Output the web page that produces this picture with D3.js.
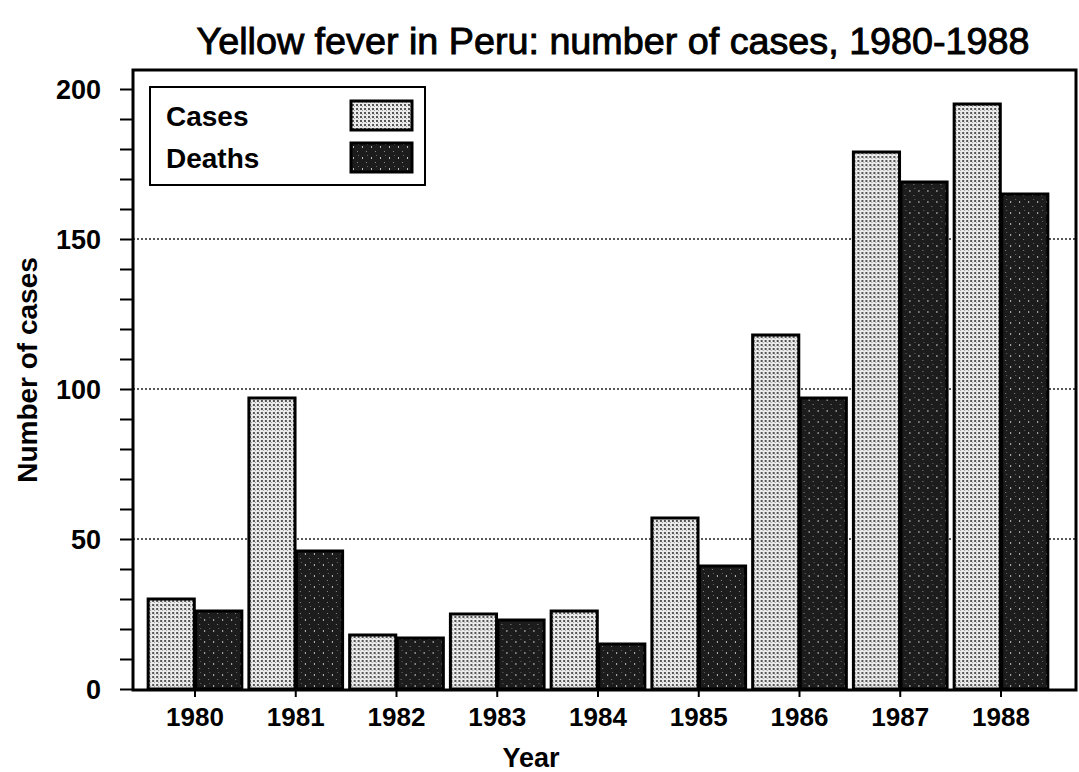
<!DOCTYPE html>
<html>
<head>
<meta charset="utf-8">
<script src="https://cdn.jsdelivr.net/npm/d3@7"></script>
<style>
  html, body { margin: 0; padding: 0; background: #fff; }
  svg { display: block; }
  text { font-family: "Liberation Sans", Arial, Helvetica, sans-serif; fill: #000; }
</style>
</head>
<body>
<svg id="chart" width="1079" height="772"></svg>
<script>
const years = ["1980", "1981", "1982", "1983", "1984", "1985", "1986", "1987", "1988"];
const seriesNames = ["Cases", "Deaths"];
const cases  = [30, 97, 18, 25, 26, 57, 118, 179, 195];
const deaths = [26, 46, 17, 23, 15, 41, 97, 169, 165];
const yTicks = [0, 50, 100, 150, 200];
const gridValues = [50, 100, 150];

const svg = d3.select("#chart");
const frame = { left: 133, top: 70, right: 1076, bottom: 690 };

const defs = svg.append("defs");
// light stipple for Cases
const p1 = defs.append("pattern").attr("id", "stipLight")
  .attr("width", 4).attr("height", 4).attr("patternUnits", "userSpaceOnUse");
p1.append("rect").attr("width", 4).attr("height", 4).attr("fill", "#ececec");
p1.append("rect").attr("x", 0).attr("y", 0).attr("width", 2).attr("height", 2).attr("fill", "#555");
p1.append("rect").attr("x", 2).attr("y", 2).attr("width", 1).attr("height", 1).attr("fill", "#999");
// dark stipple for Deaths
const p2 = defs.append("pattern").attr("id", "stipDark")
  .attr("width", 9).attr("height", 11).attr("patternUnits", "userSpaceOnUse");
p2.append("rect").attr("width", 9).attr("height", 11).attr("fill", "#1c1c1c");
p2.append("rect").attr("x", 2).attr("y", 3).attr("width", 1).attr("height", 2).attr("fill", "#bbb");
p2.append("rect").attr("x", 6).attr("y", 8).attr("width", 1).attr("height", 1).attr("fill", "#888");
p2.append("rect").attr("x", 7).attr("y", 1).attr("width", 1).attr("height", 1).attr("fill", "#666");

const x0 = d3.scaleBand().domain(years).range([141.1, 1054.9]).paddingInner(0.07).paddingOuter(0.07);
const x1 = d3.scaleBand().domain(seriesNames).range([0, x0.bandwidth()]).paddingInner(0.03);
const y = d3.scaleLinear().domain([0, 200]).range([689, 89]);

// grid lines
svg.append("g").selectAll("line").data(gridValues).join("line")
  .attr("x1", frame.left).attr("x2", frame.right)
  .attr("y1", d => y(d)).attr("y2", d => y(d))
  .attr("stroke", "#222").attr("stroke-width", 1.3).attr("stroke-dasharray", "2,2");

// bars
const rows = years.map((yr, i) => ({ year: yr, vals: [
  { key: "Cases", v: cases[i] }, { key: "Deaths", v: deaths[i] } ] }));
const g = svg.append("g").selectAll("g").data(rows).join("g")
  .attr("transform", d => `translate(${x0(d.year)},0)`);
g.selectAll("rect").data(d => d.vals).join("rect")
  .attr("x", d => x1(d.key))
  .attr("width", x1.bandwidth())
  .attr("y", d => y(d.v))
  .attr("height", d => y(0) - y(d.v))
  .attr("fill", d => d.key === "Cases" ? "url(#stipLight)" : "url(#stipDark)")
  .attr("stroke", "#000").attr("stroke-width", 3);

// frame
svg.append("rect")
  .attr("x", frame.left).attr("y", frame.top)
  .attr("width", frame.right - frame.left).attr("height", frame.bottom - frame.top)
  .attr("fill", "none").attr("stroke", "#000").attr("stroke-width", 3);

// y axis
const yAxis = d3.axisLeft(y).tickValues(d3.range(0, 201, 10)).tickSize(13)
  .tickFormat(d => yTicks.includes(d) ? d : "");
const ya = svg.append("g").attr("transform", `translate(${frame.left},0)`).call(yAxis);
ya.select(".domain").remove();
ya.selectAll(".tick line").attr("stroke", "#000").attr("stroke-width", 2);
ya.selectAll(".tick text").attr("x", -32).attr("dy", "0.36em")
  .style("font-size", "27px").style("font-weight", "bold").attr("fill", "#000");

// x axis
const xAxis = d3.axisBottom(x0).tickSize(7).tickSizeOuter(0);
const xa = svg.append("g").attr("transform", `translate(0,${frame.bottom})`).call(xAxis);
xa.select(".domain").remove();
xa.selectAll(".tick line").attr("stroke", "#000").attr("stroke-width", 2);
xa.selectAll(".tick text").attr("y", 36).attr("dy", "0")
  .style("font-size", "26px").style("font-weight", "bold").attr("fill", "#000");

// title
svg.append("text").attr("x", 613).attr("y", 54).attr("text-anchor", "middle")
  .attr("textLength", 833).attr("lengthAdjust", "spacingAndGlyphs")
  .attr("stroke", "#000").attr("stroke-width", 0.9)
  .style("font-size", "37px").text("Yellow fever in Peru: number of cases, 1980-1988");

// axis titles
svg.append("text").attr("x", 531).attr("y", 767).attr("text-anchor", "middle")
  .style("font-size", "27px").style("font-weight", "bold").text("Year");
svg.append("text").attr("transform", "translate(37,370) rotate(-90)").attr("text-anchor", "middle")
  .style("font-size", "28px").style("font-weight", "bold").text("Number of cases");

// legend
const lg = svg.append("g");
lg.append("rect").attr("x", 150).attr("y", 87).attr("width", 275).attr("height", 98)
  .attr("fill", "#fff").attr("stroke", "#000").attr("stroke-width", 2);
seriesNames.forEach((s, i) => {
  lg.append("text").attr("x", 166).attr("y", 126 + i * 42)
    .style("font-size", "28px").style("font-weight", "bold").text(s);
  lg.append("rect").attr("x", 351).attr("y", 101 + i * 42).attr("width", 61).attr("height", 29)
    .attr("fill", i === 0 ? "url(#stipLight)" : "url(#stipDark)")
    .attr("stroke", "#000").attr("stroke-width", 3);
});
</script>
</body>
</html>
